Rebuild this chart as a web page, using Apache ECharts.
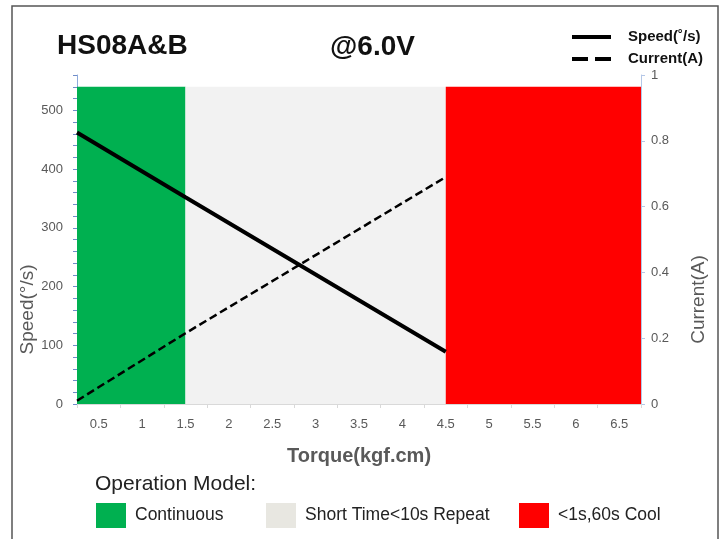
<!DOCTYPE html>
<html>
<head>
<meta charset="utf-8">
<script src="https://cdn.jsdelivr.net/npm/echarts@6/dist/echarts.min.js"></script>
<style>
    html, body { margin: 0; padding: 0; background: #fff; }
    #hs08 { width: 725px; height: 539px; }
</style>
</head>
<body>
<div id="hs08"></div>
<script>
// 数据
var torqueLabels = [0.5, 1, 1.5, 2, 2.5, 3, 3.5, 4, 4.5, 5, 5.5, 6, 6.5];
var torqueTicks = [0.25, 0.75, 1.25, 1.75, 2.25, 2.75, 3.25, 3.75, 4.25, 4.75, 5.25, 5.75, 6.25, 6.75];
var speedData = [[0.25, 462], [1.5, 352], [4.5, 89]];
var currentData = [[0.25, 0.01], [1.5, 0.215], [4.5, 0.69]];
var bandNames = ['Continuous', 'Short Time<10s Repeat', '<1s,60s Cool'];
var bandStart = [0.25, 1.5, 4.5];
var bandEnd = [1.5, 4.5, 6.75];
var bandTop = 540;
var lineNames = ['Speed(˚/s)', 'Current(A)'];

var bandColors = ['#00b050', '#f2f2f2', '#ff0000'];
var swatchColors = ['#00b050', '#e8e7e1', '#ff0000'];
var font = '"Liberation Sans", Arial, sans-serif';

var hs08_Echarts = echarts.init(document.getElementById('hs08'));

// 区域 (markArea)
var bandAreas = [];
for (var i = 0; i < bandNames.length; i++) {
    bandAreas.push([
        {xAxis: bandStart[i], yAxis: 0, itemStyle: {color: bandColors[i], opacity: 1}},
        {xAxis: bandEnd[i], yAxis: bandTop}
    ]);
}

// 底部图例
var swatchX = [96, 266, 519];
var graphics = [{
    type: 'text', left: 95, top: 474,
    style: {text: 'Operation Model:', font: '21px ' + font, fill: '#222'}
}];
for (var j = 0; j < bandNames.length; j++) {
    graphics.push({
        type: 'rect', shape: {x: swatchX[j], y: 503, width: 30, height: 25},
        style: {fill: swatchColors[j]}
    });
    graphics.push({
        type: 'text', left: swatchX[j] + 39, top: 506,
        style: {text: bandNames[j], font: '17.5px ' + font, fill: '#222'}
    });
}

// 右上图例 (实线 / 虚线)
graphics.push({
    type: 'line', shape: {x1: 572, y1: 37, x2: 611, y2: 37},
    style: {stroke: '#000', lineWidth: 4}
});
graphics.push({
    type: 'line', shape: {x1: 572, y1: 59, x2: 611, y2: 59},
    style: {stroke: '#000', lineWidth: 4, lineDash: [16, 7]}
});
graphics.push({
    type: 'text', left: 628, top: 29,
    style: {text: lineNames[0], font: 'bold 15px ' + font, fill: '#111'}
});
graphics.push({
    type: 'text', left: 628, top: 51,
    style: {text: lineNames[1], font: 'bold 15px ' + font, fill: '#111'}
});

// 外框
graphics.push({
    type: 'rect', shape: {x: 12, y: 6, width: 706, height: 560},
    style: {fill: 'none', stroke: '#555', lineWidth: 1.5}, z: -1
});

var hs08Option = {
    backgroundColor: '#fff',
    animation: false,
    title: [
        {text: 'HS08A&B', left: 52, top: 27,
         textStyle: {fontFamily: font, fontSize: 28, fontWeight: 'bold', color: '#111'}},
        {text: '@6.0V', left: 325, top: 28,
         textStyle: {fontFamily: font, fontSize: 28, fontWeight: 'bold', color: '#111'}}
    ],
    grid: {
        left: 77,
        right: 84,
        top: 75,
        bottom: 135,
        containLabel: false,
        outerBoundsMode: 'none'
    },
    xAxis: {
        type: 'value',
        min: 0.25,
        max: 6.75,
        name: 'Torque(kgf.cm)',
        nameLocation: 'middle',
        nameGap: 42,
        nameMoveOverlap: false,
        nameTextStyle: {fontFamily: font, fontSize: 20, fontWeight: 'bold', color: '#595959'},
        splitLine: {show: false},
        axisLine: {lineStyle: {color: '#d9d9d9', width: 1}},
        axisTick: {show: true, customValues: torqueTicks, length: 4, lineStyle: {color: '#d9d9d9'}},
        axisLabel: {
            customValues: torqueLabels,
            margin: 14,
            fontFamily: font,
            fontSize: 13,
            color: '#595959'
        }
    },
    yAxis: [
        {
            type: 'value',
            min: 0,
            max: 560,
            interval: 20,
            name: 'Speed(°/s)',
            nameLocation: 'middle',
            nameGap: 40,
            nameMoveOverlap: false,
            nameTextStyle: {fontFamily: font, fontSize: 19, color: '#595959', padding: [0, 140, 0, 0]},
            splitLine: {show: false},
            axisLine: {show: true, lineStyle: {color: '#8eaadb', width: 1}},
            axisTick: {show: true, length: 4, lineStyle: {color: '#6f8cc9'}},
            axisLabel: {
                margin: 14,
                fontFamily: font,
                fontSize: 13,
                color: '#595959',
                formatter: function (v) { return (v % 100 === 0 && v <= 500) ? v : ''; }
            }
        },
        {
            type: 'value',
            min: 0,
            max: 1,
            interval: 0.2,
            name: 'Current(A)',
            nameLocation: 'middle',
            nameGap: 48,
            nameMoveOverlap: false,
            nameTextStyle: {fontFamily: font, fontSize: 19, color: '#595959', padding: [0, 120, 0, 0]},
            splitLine: {show: false},
            axisLine: {show: true, lineStyle: {color: '#b4c7e7', width: 1}},
            axisTick: {show: true, length: 4, lineStyle: {color: '#b4c7e7'}},
            axisLabel: {margin: 10, fontFamily: font, fontSize: 13, color: '#595959'}
        }
    ],
    graphic: graphics,
    series: [
        {
            name: 'bands',
            type: 'line',
            data: [],
            silent: true,
            markArea: {silent: true, data: bandAreas}
        },
        {
            name: lineNames[0],
            type: 'line',
            yAxisIndex: 0,
            symbol: 'none',
            z: 5,
            lineStyle: {color: '#000', width: 4},
            data: speedData
        },
        {
            name: lineNames[1],
            type: 'line',
            yAxisIndex: 1,
            symbol: 'none',
            z: 5,
            lineStyle: {color: '#000', width: 2.5, type: [8, 4]},
            data: currentData
        }
    ]
};
hs08_Echarts.setOption(hs08Option);
</script>
</body>
</html>
